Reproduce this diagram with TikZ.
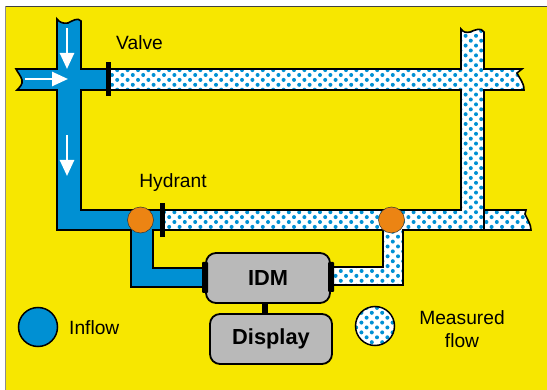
\documentclass[tikz,border=0pt]{standalone}
\usepackage{fontspec}
\setmainfont{Liberation Sans}
\usetikzlibrary{arrows.meta}
\definecolor{pagey}{HTML}{F7E700}
\definecolor{pipeb}{HTML}{0090D3}
\definecolor{boxg}{HTML}{B9B9B9}
\definecolor{hydo}{HTML}{EC8413}
\newcommand{\dotfield}[4]{%
  \foreach \row in {0,...,#4}{%
    \pgfmathsetmacro{\yy}{#2+4.9*\row}%
    \pgfmathsetmacro{\xs}{#1+5.2*mod(\row,2)}%
    \foreach \col in {0,...,#3}{%
      \fill[pipeb] ({\xs+10.4*\col},\yy) circle[radius=2];
    }%
  }%
}
\tikzset{
  pipeline/.style={draw=black,line width=1.6pt,line join=miter},
  valvebar/.style={fill=black,draw=none,inner sep=0pt,minimum width=#1},
  hydrantball/.style={circle,fill=hydo,draw=black!80,line width=0.5pt,minimum size=26pt,inner sep=0pt},
  unitbox/.style={rounded corners=10pt,fill=boxg,draw=black,line width=1.8pt,font=\fontsize{21.8}{24}\selectfont\bfseries,inner sep=0pt},
  lbl/.style={font=\fontsize{19.2}{23}\selectfont,inner sep=0pt,align=center},
  flowarrow/.style={draw=white,line width=2.6pt,-{Triangle[length=16pt,width=14pt]}},
  legend/.style={draw=black,line width=1.5pt}
}
\begin{document}
\begin{tikzpicture}[x=1pt,y=-1pt]
\useasboundingbox (0,0) rectangle (547,390);
\fill[white] (0,0) rectangle (547,390);
\fill[pagey] (5.5,6.5) rectangle (547,390);
\draw[black!75,line width=0.8pt] (547,6.3) -- (5.3,6.3);
\draw[black!45,line width=1pt] (5.3,6.3) -- (5.3,390);
% measured-flow pipes
\def\dotpath{(110,69) -- (461,69) -- (461,29) .. controls (463,32) and (466,33) .. (470,32) .. controls (475,30) and (481,27) .. (484,32) -- (484,69) -- (522,69) -- (517,73) .. controls (519,78) and (524,82) .. (524,90) -- (484,90) -- (484,210) -- (526,210) -- (525,214) .. controls (527,219) and (531,224) .. (531,230) -- (403,230) -- (403,285) -- (333,285) -- (333,267) -- (383,267) -- (383,230) -- (162,230) -- (162,210) -- (461,210) -- (461,90) -- (110,90) -- cycle}
\fill[white] \dotpath;
\begin{scope}
  \clip \dotpath;
  \dotfield{112}{26}{40}{54}
\end{scope}
\draw[pipeline] \dotpath;
\draw[black,line width=1.4pt] (484,210) -- (484,230);
% inflow pipes
\filldraw[pipeline,fill=pipeb] (57,19) .. controls (59,22) and (63,24) .. (68,23) .. controls (72,21) and (78,17) .. (81,21) -- (81,69) -- (108,69) -- (108,90) -- (81,90) -- (81,210) -- (162,210) -- (162,230) -- (153,230) -- (153,268) -- (204,268) -- (204,287) -- (131,287) -- (131,230) -- (57,230) -- (57,90) -- (17,90) .. controls (20,87) and (23,84) .. (22,80) .. controls (21,76) and (18,73) .. (16,69) -- (57,69) -- cycle;
% flow arrows
\coordinate (a1s) at (67,28); \coordinate (a1e) at (67,69);
\coordinate (a2s) at (25,79); \coordinate (a2e) at (68,79);
\coordinate (a3s) at (67,135); \coordinate (a3e) at (67,176);
\draw[flowarrow] (a1s) -- (a1e);
\draw[flowarrow] (a2s) -- (a2e);
\draw[flowarrow] (a3s) -- (a3e);
% valves
\node[valvebar=5pt,minimum height=34pt] (valve) at (108,79.5) {};
\node[valvebar=5pt,minimum height=34pt] (hyd) at (162.5,220) {};
% hydrants
\node[hydrantball] (h1) at (140.5,220) {};
\node[hydrantball] (h2) at (391.5,220) {};
% units
\node[unitbox,minimum width=124pt,minimum height=50pt] (idm) at (268,278) {IDM};
\node[unitbox,minimum width=122pt,minimum height=50pt] (disp) at (271,339) {Display};
\draw[black,line width=6pt] (idm.south -| 265,0) -- (disp.north -| 265,0);
\fill[black,rounded corners=1pt] (202,262) rectangle (208,293);
\fill[black,rounded corners=1pt] (328,262) rectangle (334,292);
% legend
\node[circle,legend,fill=pipeb,minimum size=39pt,inner sep=0pt] (li) at (38,327) {};
\fill[white] (375,326) circle[radius=20];
\begin{scope}
  \clip (375,326) circle[radius=20];
  \dotfield{351}{303}{5}{9}
\end{scope}
\node[circle,legend,minimum size=39pt,inner sep=0pt] (lm) at (375,326) {};
% labels
\node[lbl,anchor=west] at (116,43) {Valve};
\node[lbl] at (173,183) {Hydrant};
\node[lbl,anchor=west] at (69,327.5) {Inflow};
\node[lbl] at (462,329) {Measured\\flow};
\end{tikzpicture}
\end{document}
